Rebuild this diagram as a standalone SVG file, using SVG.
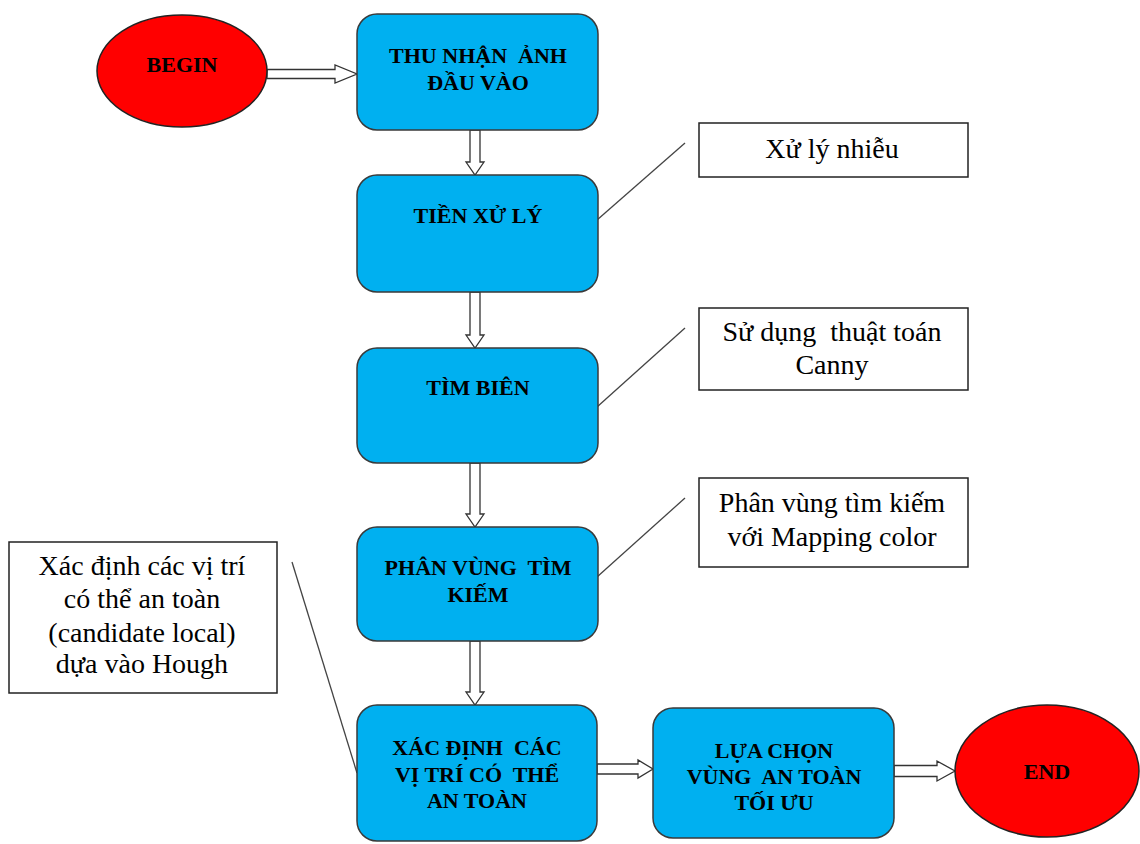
<svg xmlns="http://www.w3.org/2000/svg" width="1140" height="844" viewBox="0 0 1140 844">
<style>
text{white-space:pre}
.proc{fill:#00B0F0;stroke:#3a3a3a;stroke-width:1.5}
.term{fill:#FF0000;stroke:#222;stroke-width:1.5}
.note{fill:#fff;stroke:#222;stroke-width:1.5}
.b{font-family:"Liberation Serif","Times New Roman",serif;font-weight:bold;font-size:22px;fill:#000;text-anchor:middle}
.n{font-family:"Liberation Serif","Times New Roman",serif;font-size:28px;fill:#000;text-anchor:middle}
.arr{fill:#fff;stroke:#333;stroke-width:1.3;stroke-linejoin:miter}
.lead{stroke:#444;stroke-width:1.3;fill:none}
</style>
<rect width="1140" height="844" fill="#fff"/>
<g id="connectors">
<path class="arr" d="M267,69.5 H335 V65 L357,74 L335,83 V78.5 H267 Z"/>
<path class="arr" d="M470,130 V162 H466 L475,175 L484,162 H480 V130 Z"/>
<path class="arr" d="M470,292 V335 H466 L475,348 L484,335 H480 V292 Z"/>
<path class="arr" d="M470,463 V514 H466 L475,527 L484,514 H480 V463 Z"/>
<path class="arr" d="M470,641 V692 H466 L475,705 L484,692 H480 V641 Z"/>
<path class="arr" d="M597,764 H638 V760 L653,769 L638,778 V774 H597 Z"/>
<path class="arr" d="M894,765.5 H937 V761 L955,771 L937,781 V776.5 H894 Z"/>
<line class="lead" x1="597" y1="220" x2="685" y2="143"/>
<line class="lead" x1="597" y1="407" x2="685" y2="328"/>
<line class="lead" x1="597" y1="577" x2="685" y2="498"/>
<line class="lead" x1="292" y1="562" x2="357" y2="773"/>
</g>
<g id="begin">
<ellipse class="term" cx="182" cy="71" rx="85" ry="56"/>
<text class="b" x="182" y="72">BEGIN</text>
</g>
<g id="thu-nhan">
<rect class="proc" x="357" y="14" width="241" height="116" rx="20"/>
<text class="b" x="478" y="63">THU NHẬN  ẢNH</text>
<text class="b" x="478" y="90">ĐẦU VÀO</text>
</g>
<g id="tien-xu-ly">
<rect class="proc" x="357" y="175" width="241" height="117" rx="20"/>
<text class="b" x="478" y="223">TIỀN XỬ LÝ</text>
</g>
<g id="tim-bien">
<rect class="proc" x="357" y="348" width="241" height="115" rx="20"/>
<text class="b" x="478" y="395">TÌM BIÊN</text>
</g>
<g id="phan-vung">
<rect class="proc" x="357" y="527" width="241" height="114" rx="20"/>
<text class="b" x="478" y="575">PHÂN VÙNG  TÌM</text>
<text class="b" x="478" y="602">KIẾM</text>
</g>
<g id="xac-dinh">
<rect class="proc" x="357" y="705" width="240" height="136" rx="20"/>
<text class="b" x="477" y="755">XÁC ĐỊNH  CÁC</text>
<text class="b" x="477" y="782">VỊ TRÍ CÓ  THỂ</text>
<text class="b" x="477" y="808">AN TOÀN</text>
</g>
<g id="lua-chon">
<rect class="proc" x="653" y="708" width="241" height="130" rx="20"/>
<text class="b" x="774" y="758">LỰA CHỌN</text>
<text class="b" x="774" y="784">VÙNG  AN TOÀN</text>
<text class="b" x="774" y="810">TỐI ƯU</text>
</g>
<g id="end">
<ellipse class="term" cx="1047" cy="771" rx="92" ry="66"/>
<text class="b" x="1047" y="779">END</text>
</g>
<g id="note-xu-ly-nhieu">
<rect class="note" x="699" y="123" width="269" height="54"/>
<text class="n" x="832" y="158">Xử lý nhiễu</text>
</g>
<g id="note-canny">
<rect class="note" x="699" y="308" width="269" height="82"/>
<text class="n" x="832" y="341">Sử dụng  thuật toán</text>
<text class="n" x="832" y="374">Canny</text>
</g>
<g id="note-mapping">
<rect class="note" x="699" y="478" width="269" height="89"/>
<text class="n" x="832" y="512">Phân vùng tìm kiếm</text>
<text class="n" x="832" y="546">với Mapping color</text>
</g>
<g id="note-hough">
<rect class="note" x="9" y="542" width="268" height="151"/>
<text class="n" x="142" y="575">Xác định các vị trí</text>
<text class="n" x="142" y="608">có thể an toàn</text>
<text class="n" x="142" y="642">(candidate local)</text>
<text class="n" x="142" y="673">dựa vào Hough</text>
</g>
</svg>
